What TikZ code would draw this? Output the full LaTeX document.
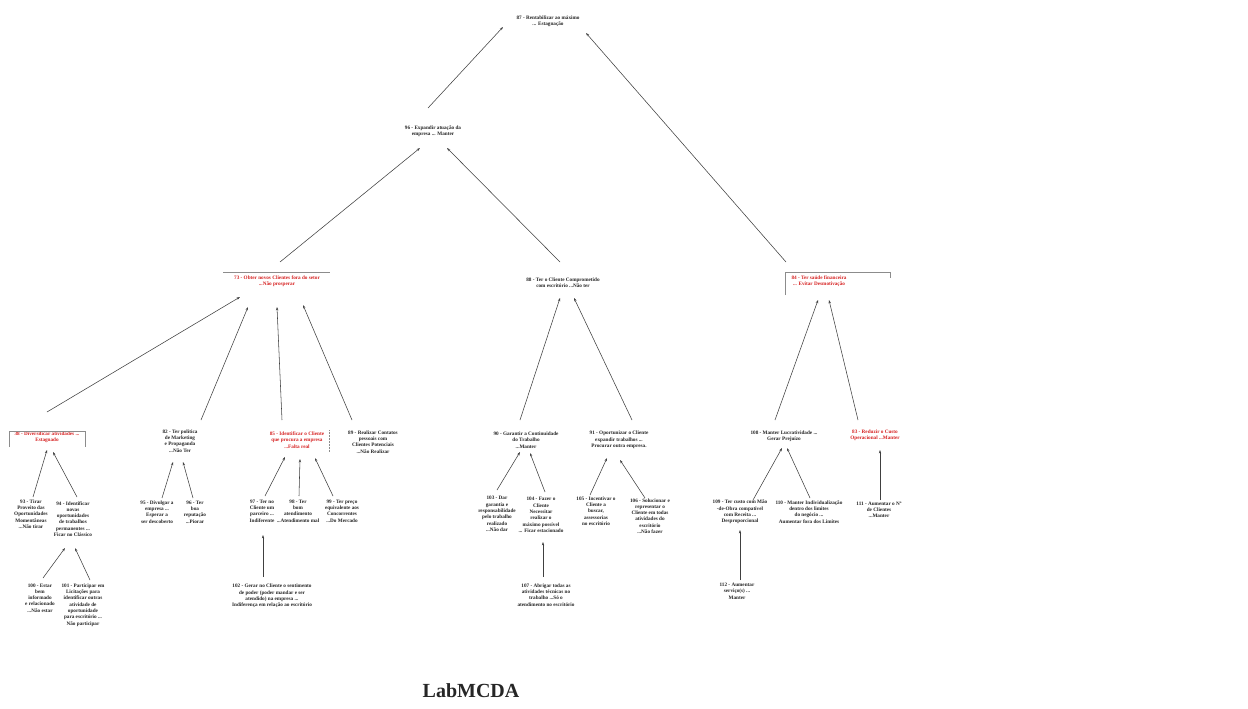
\documentclass[tikz,border=0pt]{standalone}
\usepackage{fontspec}
\setmainfont{Liberation Serif}
\usetikzlibrary{arrows.meta,calc}
\definecolor{redtxt}{RGB}{215,35,35}
\tikzset{
  lbl/.style={align=center,inner sep=0pt,font=\fontsize{5.2}{6.3}\selectfont\bfseries,text=black!85},
  rlbl/.style={lbl,text=redtxt},
  arr/.style={draw=black!75,line width=0.55pt,-{Stealth[length=3.4pt,width=2.4pt]}},
  frame/.style={draw=black!45,line width=0.5pt},
}
\newcommand\lnk[4]{\draw[arr] ($(#1)+(#2)$) -- ($(#3)+(#4)$);}
\begin{document}
\begin{tikzpicture}[x=1pt,y=-1pt]
\useasboundingbox[fill=white] (0,0) rectangle (1248,709);
% level 0-1
\node[lbl] (n87) at (548,21) {87 - Rentabilizar ao máximo\\... Estagnação};
\node[lbl] (n96) at (433,131) {96 - Expandir atuação da\\empresa ... Manter};
% level 2
\node[rlbl] (n73) at (277,281) {73 - Obter novos Clientes fora do setor\\...Não prosperar};
\node[lbl] (n88) at (563,283) {88 - Ter o Cliente Comprometido\\com escritório ...Não ter};
\node[rlbl] (n84) at (819,281) {84 - Ter saúde financeira\\... Evitar Desmotivação};
% level 3
\node[rlbl] (n38) at (47,437) {38 - Diversificar atividades ...\\Estagnado};
\node[lbl] (n82) at (180,441) {82 - Ter política\\de Marketing\\e Propaganda\\...Não Ter};
\node[rlbl] (n85) at (297,440) {85 - Identificar o Cliente\\que procura a empresa\\...Falta real};
\node[lbl] (n89) at (373,442) {89 - Realizar Contatos\\pessoais com\\Clientes Potenciais\\...Não Realizar};
\node[lbl] (n90) at (526,440) {90 - Garantir a Continuidade\\do Trabalho\\...Manter};
\node[lbl] (n91) at (619,440) {91 - Oportunizar o Cliente\\expandir trabalhos ...\\Procurar outra empresa.};
\node[lbl] (n108) at (784,436) {108 - Manter Lucratividade ...\\Gerar Prejuízo};
\node[rlbl] (n83) at (875,435) {83 - Reduzir o Custo\\Operacional ...Manter};
% level 4
\node[lbl] (n93) at (31,514) {93 - Tirar\\Proveito das\\Oportunidades\\Momentâneas\\...Não tirar};
\node[lbl] (n94) at (73,519) {94 - Identificar\\novas\\oportunidades\\de trabalhos\\permanentes ...\\Ficar no Clássico};
\node[lbl] (n95) at (157,512) {95 - Divulgar a\\empresa ...\\Esperar a\\ser descoberto};
\node[lbl] (n96b) at (195,512) {96 - Ter\\boa\\reputação\\...Piorar};
\node[lbl] (n97) at (262,511) {97 - Ter no\\Cliente um\\parceiro ...\\Indiferente};
\node[lbl] (n98) at (298,511) {98 - Ter\\bom\\atendimento\\...Atendimento mal};
\node[lbl] (n99) at (342,511) {99 - Ter preço\\equivalente aos\\Concorrentes\\...Do Mercado};
\node[lbl] (n103) at (497,514) {103 - Dar\\garantia e\\responsabilidade\\pelo trabalho\\realizado\\...Não dar};
\node[lbl] (n104) at (541,515) {104 - Fazer o\\Cliente\\Necessitar\\realizar o\\máximo possível\\... Ficar estacionado};
\node[lbl] (n105) at (596,511) {105 - Incentivar o\\Cliente a\\buscar,\\assessorias\\no escritório};
\node[lbl] (n106) at (650,516) {106 - Solucionar e\\representar o\\Cliente em todas\\atividades do\\escritório\\...Não fazer};
\node[lbl] (n109) at (740,512) {109 - Ter custo com Mão\\-de-Obra compatível\\com Receita ...\\Desproporcional};
\node[lbl] (n110) at (809,512) {110 - Manter Individualização\\dentro dos limites\\do negócio ...\\Aumentar fora dos Limites};
\node[lbl] (n111) at (879,510) {111 - Aumentar o Nº\\de Clientes\\...Manter};
% level 5
\node[lbl] (n100) at (40,598) {100 - Estar\\bem\\informado\\e relacionado\\...Não estar};
\node[lbl] (n101) at (83,605) {101 - Participar em\\Licitações para\\identificar outras\\atividade de\\oportunidade\\para escritório ...\\Não participar};
\node[lbl] (n102) at (272,596) {102 - Gerar no Cliente o sentimento\\de poder (poder mandar e ser\\atendido) na empresa ...\\Indiferença em relação ao escritório};
\node[lbl] (n107) at (546,595) {107 - Abrigar todas as\\atividades técnicas no\\trabalho ...Só o\\atendimento no escritório};
\node[lbl] (n112) at (737,591) {112 - Aumentar\\serviço(s) ...\\Manter};
% title
\node[font=\fontsize{20}{22}\selectfont\bfseries,text=black!85,inner sep=0pt] (title) at (471,691) {LabMCDA};
% frames of red nodes
\draw[frame] ($(n73)+(-54,-9)$) -- ($(n73)+(53,-9)$);
\draw[frame] ($(n84)+(-34,14)$) -- ($(n84)+(-34,-9)$) -- ($(n84)+(71,-9)$) -- ($(n84)+(71,-3)$);
\draw[frame] ($(n38)+(-38,10)$) -- ($(n38)+(-38,-6)$) -- ($(n38)+(38,-6)$) -- ($(n38)+(38,10)$);
\draw[frame,densely dotted] ($(n85)+(32,-10)$) -- ($(n85)+(32,12)$);
% connectors
\lnk{n96}{-5,-23}{n87}{-45,6}
\lnk{n84}{-33,-19}{n87}{38,12}
\lnk{n73}{3,-19}{n96}{-13,17}
\lnk{n88}{-3,-21}{n96}{14,17}
\lnk{n38}{0,-25}{n73}{-37,16}
\lnk{n82}{21,-21}{n73}{-29,26}
\lnk{n85}{-15,-20}{n73}{0,26}
\lnk{n89}{-21,-22}{n73}{26,24}
\lnk{n90}{-6,-20}{n88}{-3,15}
\lnk{n91}{13,-20}{n88}{11,15}
\lnk{n108}{-9,-16}{n84}{-1,19}
\lnk{n83}{-17,-15}{n84}{10,19}
\lnk{n93}{2,-17}{n38}{0,13}
\lnk{n94}{4,-22}{n38}{6,15}
\lnk{n100}{3,-20}{n94}{-8,29}
\lnk{n101}{7,-25}{n94}{2,29}
\lnk{n95}{5,-14}{n82}{-7,21}
\lnk{n96b}{-2,-14}{n82}{3,21}
\lnk{n97}{3,-15}{n85}{-12,17}
\lnk{n98}{1,-15}{n85}{3,19}
\lnk{n99}{-9,-15}{n85}{18,18}
\lnk{n102}{-9,-19}{n97}{1,24}
\lnk{n103}{0,-24}{n90}{-6,12}
\lnk{n104}{4,-23}{n90}{4,13}
\lnk{n107}{-3,-18}{n104}{2,27}
\lnk{n105}{-6,-16}{n91}{-12,18}
\lnk{n106}{-5,-18}{n91}{1,20}
\lnk{n109}{13,-12}{n108}{-2,12}
\lnk{n110}{1,-14}{n108}{3,12}
\lnk{n112}{3,-11}{n109}{0,18}
\lnk{n111}{1,-10}{n83}{5,15}
\end{tikzpicture}
\end{document}
